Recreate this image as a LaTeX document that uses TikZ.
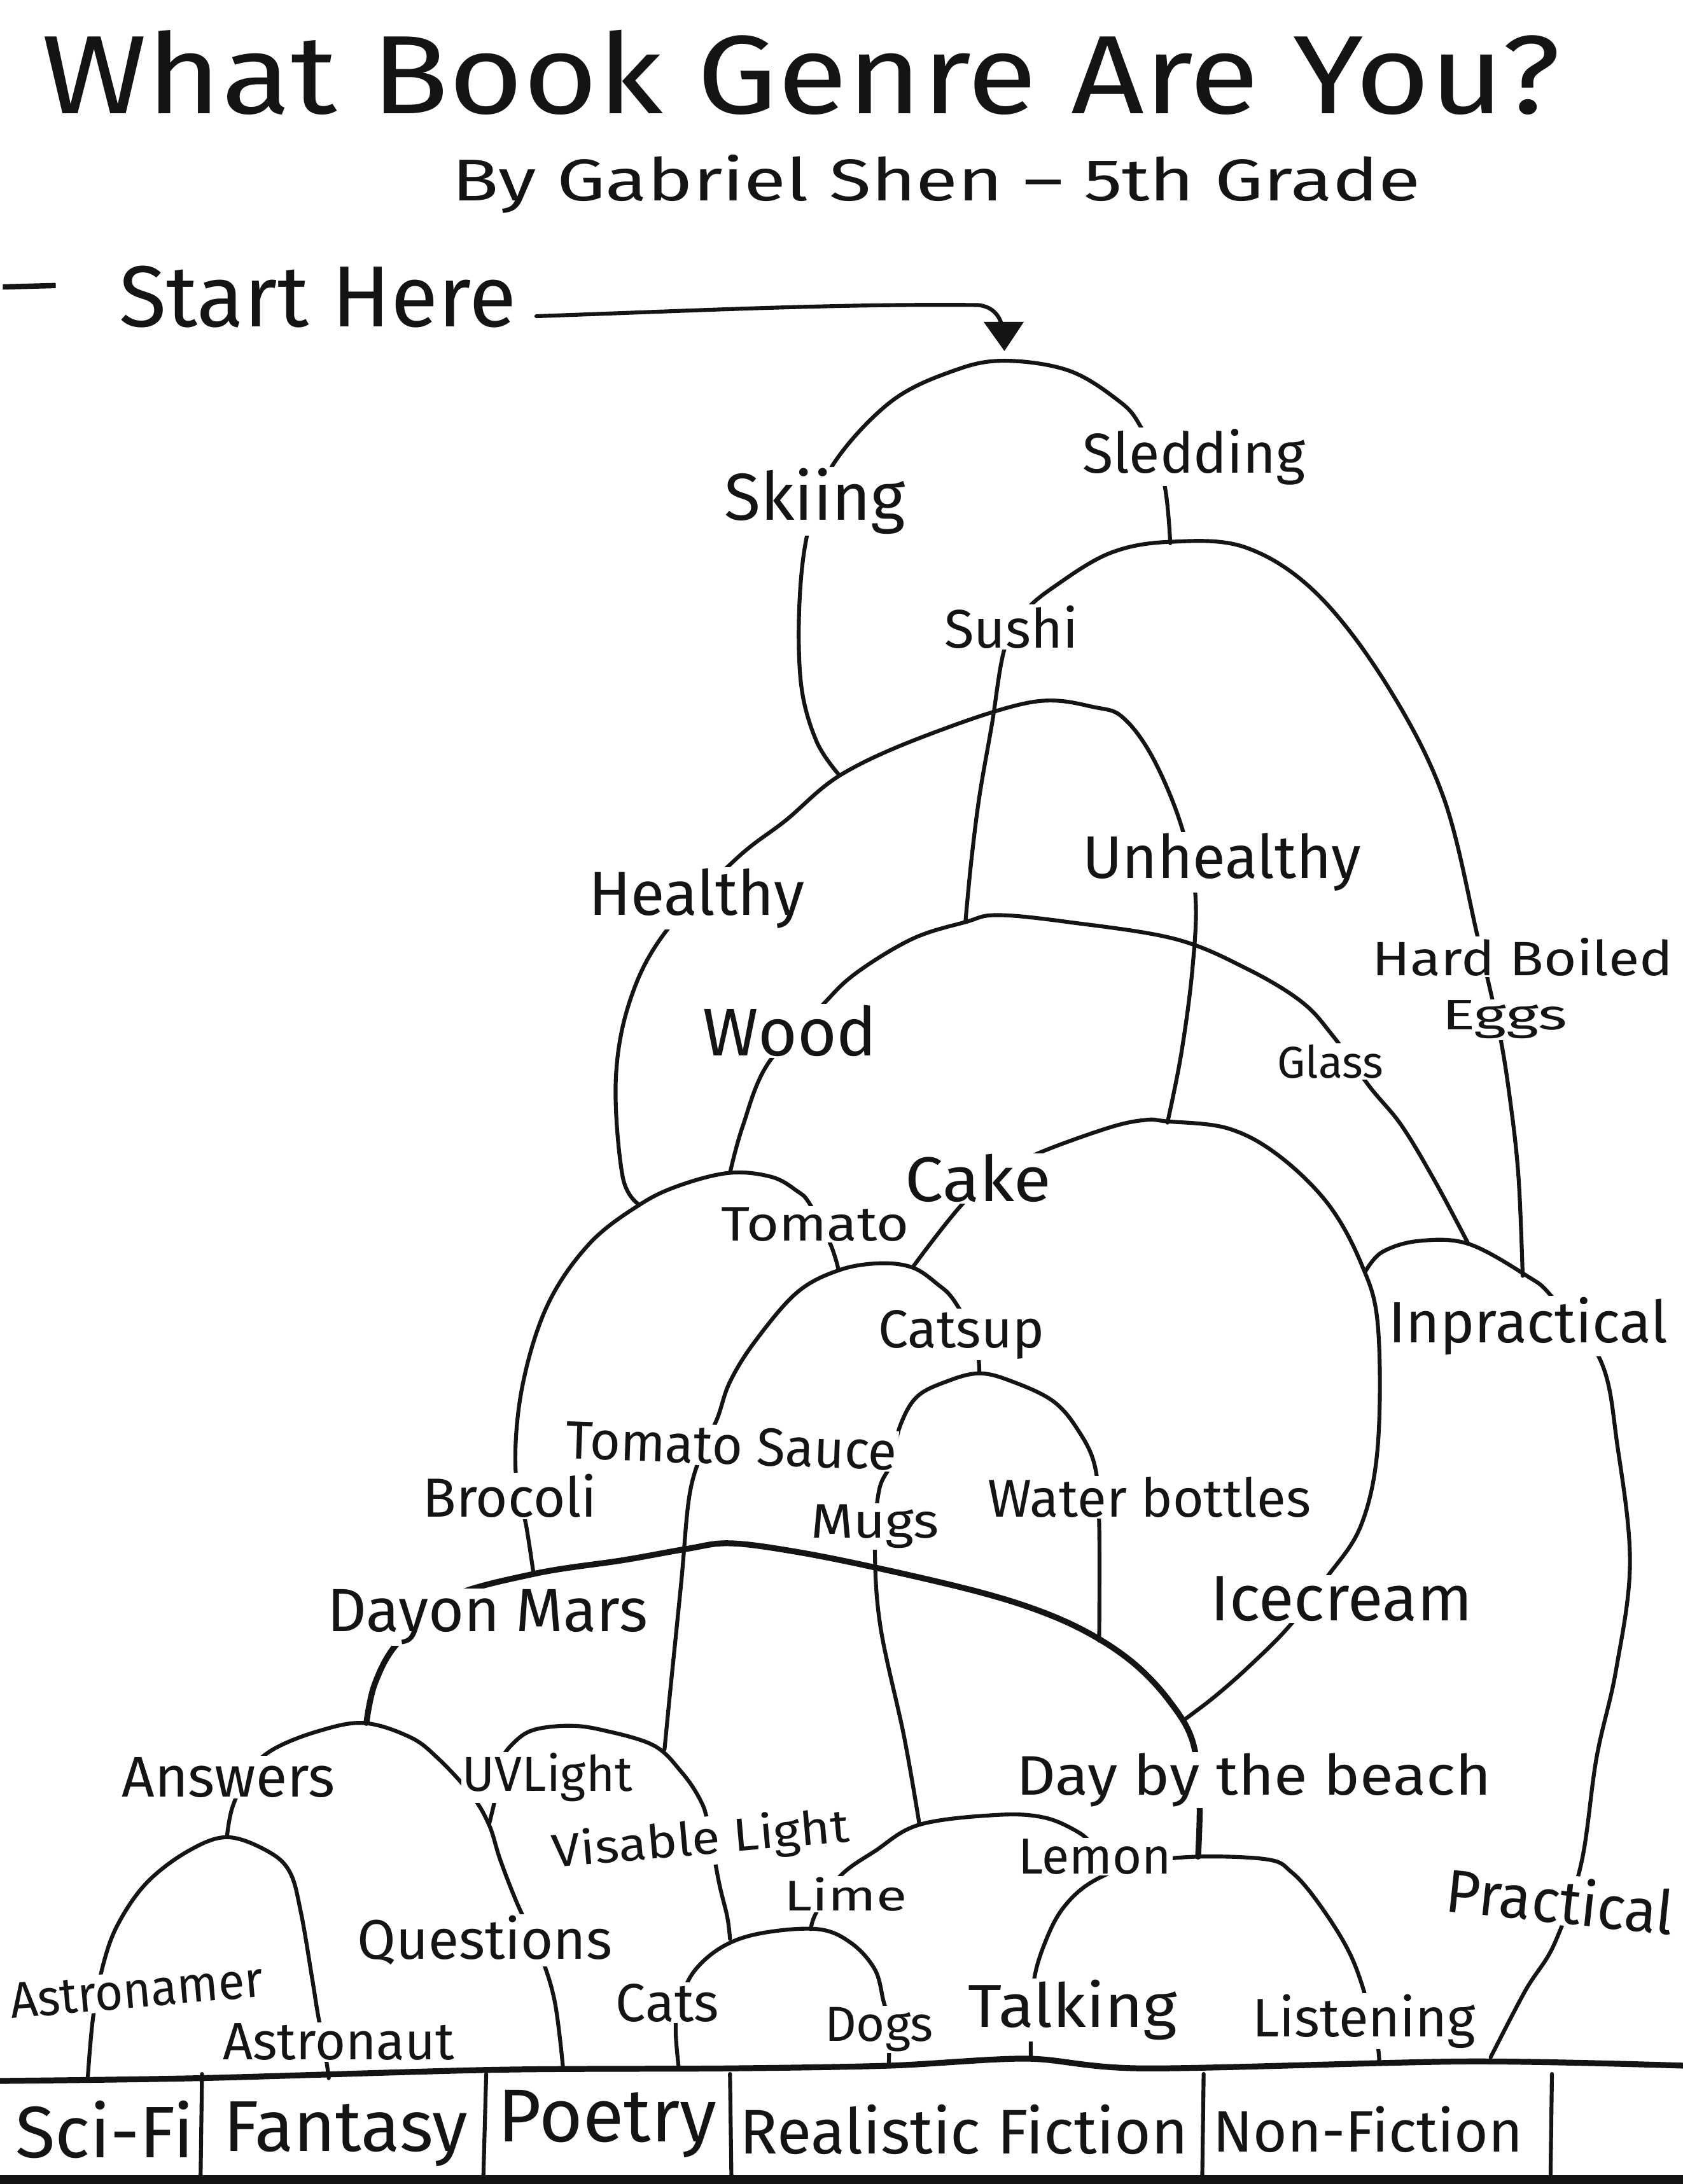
\documentclass[tikz,border=0pt]{standalone}
\usepackage{fontspec}
\setmainfont{Fira Sans}
\usepackage{graphicx}
\newlength\unitlen
\setlength\unitlen{0.02cm}
\definecolor{ink}{HTML}{141414}
\tikzset{
  pen/.style={draw=ink, line width=1.6pt, line cap=round, line join=round},
  heavy/.style={draw=ink, line width=2.4pt, line cap=round, line join=round},
  lab/.style={fill=white, inner sep=0.5pt, text=ink},
  plain/.style={inner sep=0pt, text=ink},
}
% label with white backing: [opts]{name}{x}{y}{width}{text}
\newcommand{\lab}[6][]{\node[lab,#1] (#2) at (#3,#4) {\resizebox{#5\unitlen}{!}{#6}};}
% label with width and height given: [opts]{name}{x}{y}{width}{height}{text}
\newcommand{\labh}[7][]{\node[lab,#1] (#2) at (#3,#4) {\resizebox{#5\unitlen}{#6\unitlen}{#7}};}
\newcommand{\txt}[6][]{\node[plain,#1] (#2) at (#3,#4) {\resizebox{#5\unitlen}{!}{#6}};}
\newcommand{\txth}[7][]{\node[plain,#1] (#2) at (#3,#4) {\resizebox{#5\unitlen}{#6\unitlen}{#7}};}
\begin{document}
\begin{tikzpicture}[x=0.02cm,y=-0.02cm]
\useasboundingbox (0,0) rectangle (1208,1568);
\fill[white] (0,0) rectangle (1208,1568);

% ---- title block
\txth{title}{575}{52}{1090}{60}{What Book Genre Are You?}
\txth{byline}{672}{132}{695}{33}{By Gabriel Shen – 5th Grade}
\txt{start}{228}{213}{285}{Start Here}
\draw[draw=ink, line width=2.2pt] (2,206) -- (40,205);

% ---- arrow from Start Here to the first question
\coordinate (arrowstart) at (385,227);
\coordinate (arrowbend) at (702,219);
\draw[pen] (arrowstart) .. controls (500,223) and (600,218) .. (arrowbend) .. controls (712,220) and (717,226) .. (719,233);
\fill[ink] (706,231) -- (735,231) -- (721,252) -- cycle;

% ---- arches (drawn first, labels with white backing on top)
% Skiing / Sledding
\draw[pen] plot[smooth, tension=0.6] coordinates {(602,556) (586,532) (575,491) (574,430) (581,377) (599,332) (640,288) (685,266) (721,259) (767,266) (802,287) (818,305) (835,344) (840,390)};
% Sushi / Hard Boiled Eggs
\draw[pen] plot[smooth, tension=0.6] coordinates {(693,662) (697,620) (703,572) (712,520) (721,466) (735,440) (757,421) (797,397) (840,389) (894,393) (945,426) (995,491) (1036,572) (1061,674) (1076,740) (1084,790) (1090,845) (1093,916)};
% Healthy / Unhealthy
\draw[pen] plot[smooth, tension=0.6] coordinates {(459,865) (447,845) (442,776) (452,719) (477,670) (528,617) (564,589) (604,556) (665,528) (741,504) (787,508) (807,516) (828,545) (848,593) (858,642) (856,695) (848,756) (838,806)};
% Wood / Glass
\draw[pen] plot[smooth, tension=0.6] coordinates {(524,842) (533,809) (551,764) (589,723) (614,699) (655,674) (693,662) (716,657) (767,662) (843,674) (894,695) (934,719) (957,744) (983,780) (1006,808) (1030,848) (1054,893)};
% Brocoli / Tomato
\draw[pen] plot[smooth, tension=0.6] coordinates {(383,1130) (378,1097) (370,1053) (375,995) (393,937) (423,893) (459,865) (488,851) (524,842) (554,845) (572,855) (581,864) (596,893) (602,912)};
% Tomato Sauce / Catsup
\draw[pen] plot[smooth, tension=0.6] coordinates {(477,1256) (481,1215) (489,1136) (495,1073) (505,1040) (515,1018) (524,992) (542,963) (572,928) (602,912) (631,907) (655,910) (673,922) (685,934) (700,962) (703,986)};
% Cake / Icecream
\draw[pen] plot[smooth, tension=0.6] coordinates {(655,910) (694,861) (727,838) (750,826) (798,809) (823,804) (837,805) (881,810) (917,829) (953,864) (977,907) (989,951) (989,1038) (977,1095) (952,1133) (925,1168) (897,1196) (872,1218) (851,1234)};
% Mugs / Water bottles
\draw[pen] plot[smooth, tension=0.6] coordinates {(660,1310) (649,1247) (632,1168) (628,1111) (631,1070) (640,1050) (646,1024) (658,1003) (679,992) (703,986) (727,992) (756,1006) (774,1027) (786,1053) (789,1094) (789,1178)};
% Inpractical / Practical
\draw[pen] plot[smooth, tension=0.6] coordinates {(980,913) (992,899) (1018,891) (1054,893) (1096,916) (1114,931) (1149,977) (1161,1038) (1170,1122) (1160,1199) (1146,1262) (1135,1338) (1116,1395) (1095,1429) (1070,1477)};
% Day on Mars / Day by the beach (heavy arc)
\draw[heavy] plot[smooth, tension=0.6] coordinates {(263,1237) (269,1209) (285,1180) (320,1148) (383,1130) (448,1120) (493,1112) (524,1108) (571,1114) (631,1126) (703,1143) (750,1158) (786,1175) (816,1196) (840,1222) (856,1250) (861,1290) (860,1333)};
% Answers / Questions
\draw[pen] plot[smooth, tension=0.6] coordinates {(163,1318) (167,1297) (179,1272) (196,1256) (228,1243) (261,1237) (294,1247) (314,1262) (338,1288) (351,1310) (359,1335) (371,1366) (387,1401) (398,1436) (404,1483)};
% UV Light / Visable Light
\draw[pen] plot[smooth, tension=0.6] coordinates {(351,1310) (357,1284) (359,1265) (369,1251) (383,1242) (408,1239) (432,1242) (469,1253) (489,1272) (502,1291) (508,1308) (516,1351) (522,1376) (524,1392)};
% Astronamer / Astronaut
\draw[pen] plot[smooth, tension=0.6] coordinates {(63,1492) (67,1447) (75,1407) (86,1379) (106,1351) (135,1329) (163,1319) (192,1329) (208,1344) (216,1373) (224,1420) (228,1445) (234,1478) (236,1492)};
% Lime / Lemon
\draw[pen] plot[smooth, tension=0.6] coordinates {(582,1385) (586,1373) (603,1347) (628,1329) (660,1310) (716,1303) (750,1305) (775,1316) (784,1325)};
% Cats / Dogs
\draw[pen] plot[smooth, tension=0.6] coordinates {(487,1483) (485,1458) (487,1442) (497,1417) (518,1398) (546,1388) (587,1385) (611,1395) (628,1414) (634,1436) (636,1445) (638,1470) (638,1481)};
% Talking / Listening
\draw[pen] plot[smooth, tension=0.6] coordinates {(740,1478) (740,1461) (742,1423) (750,1395) (763,1370) (784,1351) (817,1338) (859,1333) (910,1335) (927,1344) (944,1363) (965,1395) (977,1423) (988,1464) (990,1480)};

% ---- genre table
\draw[heavy] plot[smooth, tension=0.5] coordinates {(0,1494) (143,1492) (355,1486) (522,1485) (639,1483) (737,1478) (822,1485) (1053,1480) (1208,1483)};
\draw[draw=ink, line width=4pt] (0,1565) -- (1208,1565);
\foreach \xa/\xb in {145/144, 349/347, 524/525, 864/863, 1114/1113}
  \draw[pen] (\xa,1489) -- (\xb,1562);

% ---- labels on the arches
\lab{skiing}{585}{360}{130}{Skiing}
\lab{sledding}{857}{328}{160}{Sledding}
\lab{sushi}{726}{450}{96}{Sushi}
\lab{healthy}{500}{645}{155}{Healthy}
\lab{unhealthy}{877}{619}{200}{Unhealthy}
\labh{hardboiled}{1093}{687}{216}{27}{Hard Boiled}
\labh{eggs}{1080}{732}{90}{21}{Eggs}
\lab{wood}{567}{740}{125}{Wood}
\lab{glass}{955}{762}{76}{Glass}
\labh{cake}{702}{846}{105}{34}{Cake}
\labh{tomato}{585}{879}{135}{24}{Tomato}
\lab{catsup}{690}{958}{119}{Catsup}
\lab{inpractical}{1097}{952}{200}{Inpractical}
\lab{brocoli}{366}{1074}{125}{Brocoli}
\labh[rotate=-2]{tomatosauce}{525}{1038}{238}{27}{Tomato Sauce}
\labh{mugs}{628}{1096}{92}{24}{Mugs}
\lab{waterbottles}{825}{1075}{232}{Water bottles}
\lab{icecream}{963}{1148}{188}{Icecream}
\lab{dayonmars}{350}{1161}{230}{Dayon Mars}
\lab{answers}{164}{1276}{153}{Answers}
\lab{uvlight}{393}{1276}{122}{UVLight}
\labh{daybeach}{900}{1278}{341}{30}{Day by the beach}
\labh[rotate=5]{visable}{503}{1322}{214}{26}{Visable Light}
\labh{lemon}{786}{1333}{110}{25}{Lemon}
\labh{lime}{607}{1360}{88}{24}{Lime}
\labh[rotate=-6]{practical}{1120}{1364}{164}{34}{Practical}
\lab{questions}{348}{1393}{183}{Questions}
\labh[rotate=5]{astronamer}{98}{1429}{182}{25}{Astronamer}
\labh{astronaut}{243}{1466}{166}{26}{Astronaut}
\lab{cats}{479}{1438}{74}{Cats}
\lab{dogs}{631}{1457}{78}{Dogs}
\labh{talking}{770}{1443}{150}{34}{Talking}
\lab{listening}{979}{1451}{160}{Listening}

% ---- genre names
\txt{scifi}{75}{1529}{128}{Sci-Fi}
\txt{fantasy}{248}{1532}{175}{Fantasy}
\txt{poetry}{436}{1525}{157}{Poetry}
\txt{realistic}{692}{1529}{322}{Realistic Fiction}
\txt{nonfiction}{982}{1529}{222}{Non-Fiction}
\end{tikzpicture}
\end{document}
